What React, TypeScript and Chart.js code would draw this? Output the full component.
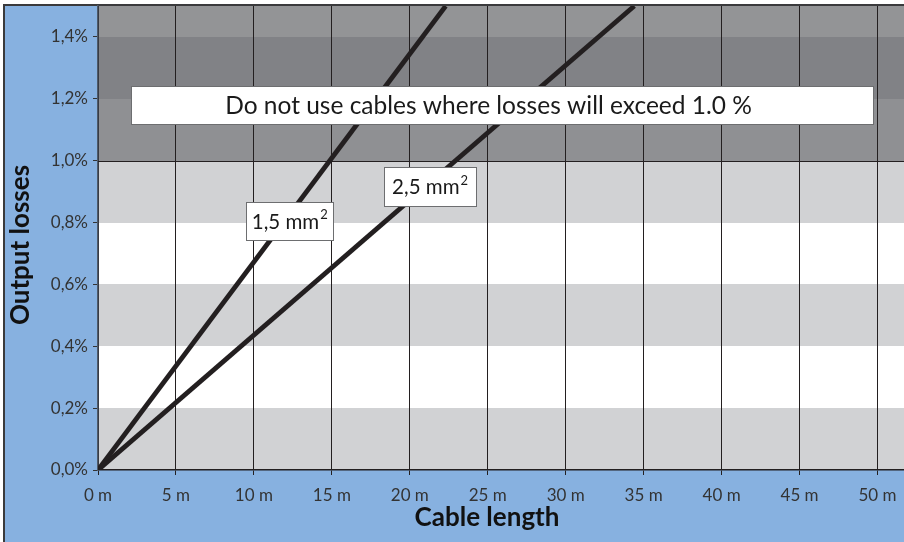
import React, { useEffect, useRef } from 'react';
import { Chart, registerables } from 'chart.js';

Chart.register(...registerables);

// Data
const lengths15 = [0, 22.3];
const losses15 = [0, 1.5];
const lengths25 = [0, 34.4];
const losses25 = [0, 1.5];
const xTicks = [0, 5, 10, 15, 20, 25, 30, 35, 40, 45, 50];
const yTicks = [0, 0.2, 0.4, 0.6, 0.8, 1.0, 1.2, 1.4];
const bandEdges = [0, 0.2, 0.4, 0.6, 0.8, 1.0, 1.2, 1.4, 1.5];
const bandColors = ['#d1d2d4', '#ffffff', '#d1d2d4', '#ffffff', '#d1d2d4', '#8f9093', '#818286', '#939496'];
const seriesNames = ['1,5 mm²', '2,5 mm²'];
const warningText = 'Do not use cables where losses will exceed 1.0 %';
const xTitle = 'Cable length';
const yTitle = 'Output losses';

const FONT = 'Lato, "DejaVu Sans", sans-serif';

const decorPlugin = {
  id: 'decor',
  beforeDraw(chart: any) {
    const { ctx, chartArea, width, height } = chart;
    const y = chart.scales.y;
    ctx.save();
    ctx.fillStyle = '#ffffff';
    ctx.fillRect(0, 0, width, height);
    ctx.fillStyle = '#87b1e0';
    ctx.fillRect(4, 6, width - 4, height - 6);
    const left = Math.round(chartArea.left);
    const right = Math.round(chartArea.right);
    for (let i = 0; i < bandColors.length; i++) {
      const top = Math.round(y.getPixelForValue(bandEdges[i + 1]));
      const bot = Math.round(y.getPixelForValue(bandEdges[i]));
      ctx.fillStyle = bandColors[i];
      ctx.fillRect(left, top, right - left, bot - top);
    }
    ctx.strokeStyle = '#3a3a3c';
    ctx.lineWidth = 2;
    ctx.beginPath();
    ctx.moveTo(4, height);
    ctx.lineTo(4, 5);
    ctx.lineTo(width, 5);
    ctx.stroke();
    ctx.restore();
  },
  beforeDatasetsDraw(chart: any) {
    const { ctx, chartArea } = chart;
    const y = chart.scales.y;
    const py = Math.round(y.getPixelForValue(1.0)) + 0.5;
    ctx.save();
    ctx.strokeStyle = '#231f20';
    ctx.lineWidth = 1.2;
    ctx.beginPath();
    ctx.moveTo(chartArea.left, py);
    ctx.lineTo(chartArea.right, py);
    ctx.stroke();
    ctx.restore();
  },
  afterDatasetsDraw(chart: any) {
    const { ctx } = chart;
    const x = chart.scales.x;
    const y = chart.scales.y;
    const box = (x0: number, x1: number, y0: number, y1: number, text: string, size: number, tx: number) => {
      const l = Math.round(x.getPixelForValue(x0));
      const r = Math.round(x.getPixelForValue(x1));
      const t = Math.round(y.getPixelForValue(y0));
      const b = Math.round(y.getPixelForValue(y1));
      ctx.fillStyle = '#ffffff';
      ctx.fillRect(l, t, r - l, b - t);
      ctx.strokeStyle = '#6d6e70';
      ctx.lineWidth = 1;
      ctx.strokeRect(l + 0.5, t + 0.5, r - l, b - t);
      ctx.fillStyle = '#1a1a1a';
      ctx.textBaseline = 'middle';
      const cy = (t + b) / 2 + 1;
      const cx = x.getPixelForValue(tx);
      const parts = text.split('²');
      if (parts.length > 1) {
        const base = parts[0];
        const supSize = Math.round(size * 0.62);
        ctx.font = `${size}px ${FONT}`;
        const bw = ctx.measureText(base).width;
        ctx.font = `${supSize}px ${FONT}`;
        const sw = ctx.measureText('2').width;
        const startX = cx - (bw + sw + 1) / 2;
        ctx.textAlign = 'left';
        ctx.font = `${size}px ${FONT}`;
        ctx.fillText(base, startX, cy);
        ctx.font = `${supSize}px ${FONT}`;
        ctx.fillText('2', startX + bw + 1, cy - size * 0.33);
      } else {
        ctx.font = `${size}px ${FONT}`;
        ctx.textAlign = 'center';
        ctx.fillText(text, cx, cy);
      }
    };
    ctx.save();
    box(2.12, 49.7, 1.242, 1.119, warningText, 24.5, 25.05);
    box(9.5, 15.1, 0.865, 0.745, seriesNames[0], 20.5, 12.3);
    box(18.35, 24.25, 0.978, 0.855, seriesNames[1], 20.5, 21.3);
    ctx.fillStyle = '#111111';
    ctx.font = `bold 26px ${FONT}`;
    ctx.textAlign = 'center';
    ctx.textBaseline = 'middle';
    ctx.fillText(xTitle, 487, 518);
    ctx.translate(21, 245);
    ctx.rotate(-Math.PI / 2);
    ctx.fillText(yTitle, 0, 0);
    ctx.restore();
  },
};

export default function App() {
  const ref = useRef<HTMLCanvasElement>(null);
  useEffect(() => {
    document.body.style.margin = '0';
    const canvas = ref.current!;
    const chart = new Chart(canvas, {
      type: 'line',
      data: {
        datasets: [
          {
            label: seriesNames[0],
            data: lengths15.map((v, i) => ({ x: v, y: losses15[i] })),
            borderColor: '#231f20',
            borderWidth: 4.8,
            pointRadius: 0,
            tension: 0,
          },
          {
            label: seriesNames[1],
            data: lengths25.map((v, i) => ({ x: v, y: losses25[i] })),
            borderColor: '#231f20',
            borderWidth: 4.8,
            pointRadius: 0,
            tension: 0,
          },
        ],
      },
      options: {
        animation: false,
        responsive: false,
        devicePixelRatio: 1,
        layout: { padding: { left: 0, top: 6, right: 0, bottom: 0 } },
        plugins: { legend: { display: false }, tooltip: { enabled: false } },
        scales: {
          x: {
            type: 'linear',
            min: 0,
            max: 51.7,
            afterFit: (s: any) => { s.height = 72; s.paddingLeft = 0; s.paddingRight = 0; },
            afterBuildTicks: (s: any) => { s.ticks = xTicks.map((v) => ({ value: v })); },
            grid: { color: '#231f20', lineWidth: 1, tickLength: 5, drawTicks: true },
            border: { color: '#231f20', width: 1.5 },
            ticks: {
              color: '#333333',
              font: { family: FONT, size: 17 },
              padding: 10,
              maxRotation: 0,
              autoSkip: false,
              callback: (v: any) => `${v} m`,
            },
          },
          y: {
            type: 'linear',
            min: 0,
            max: 1.5,
            afterFit: (s: any) => { s.width = 98; s.paddingTop = 0; s.paddingBottom = 0; },
            afterBuildTicks: (s: any) => { s.ticks = yTicks.map((v) => ({ value: v })); },
            grid: { color: '#333333', drawOnChartArea: false, tickLength: 5 },
            border: { color: '#4f5b6b', width: 1.5 },
            ticks: {
              color: '#333333',
              font: { family: FONT, size: 17 },
              padding: 5,
              autoSkip: false,
              callback: (v: any) => `${Number(v).toFixed(1).replace('.', ',')}%`,
            },
          },
        },
      },
      plugins: [decorPlugin],
    });
    return () => chart.destroy();
  }, []);
  return (
    <div style={{ position: 'absolute', left: 0, top: 0 }}>
      <canvas ref={ref} width={904} height={542} style={{ display: 'block', width: 904, height: 542 }} />
    </div>
  );
}
